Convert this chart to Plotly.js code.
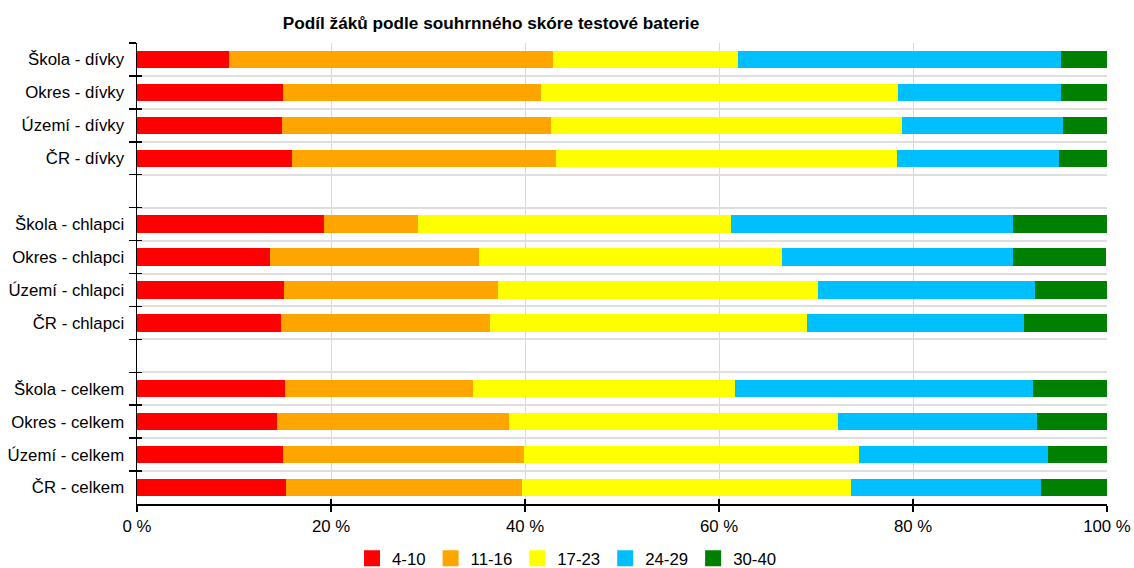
<!DOCTYPE html>
<html>
<head>
<meta charset="utf-8">
<script src="https://cdn.plot.ly/plotly-3.0.1.min.js"></script>
<style>html,body{margin:0;padding:0;background:#fff;}#chart{width:1134px;height:568px;}</style>
</head>
<body>
<div id="chart"></div>
<script>
const categories = [
  "Škola - dívky", "Okres - dívky", "Území - dívky", "ČR - dívky", " ",
  "Škola - chlapci", "Okres - chlapci", "Území - chlapci", "ČR - chlapci", "  ",
  "Škola - celkem", "Okres - celkem", "Území - celkem", "ČR - celkem"
];
const seriesNames = ["4-10", "11-16", "17-23", "24-29", "30-40"];
const s4_10  = [9.5, 15.0, 14.9, 16.0, null, 19.3, 13.7, 15.2, 14.8, null, 15.3, 14.4, 15.0, 15.4];
const s11_16 = [33.4, 26.6, 27.8, 27.2, null, 9.7, 21.6, 22.0, 21.6, null, 19.3, 23.9, 24.9, 24.3];
const s17_23 = [19.1, 36.9, 36.2, 35.1, null, 32.2, 31.2, 33.0, 32.7, null, 27.0, 34.0, 34.5, 33.9];
const s24_29 = [33.3, 16.8, 16.6, 16.7, null, 29.1, 23.8, 22.4, 22.3, null, 30.8, 20.5, 19.5, 19.6];
const s30_40 = [4.8, 4.8, 4.6, 5.0, null, 9.7, 9.6, 7.4, 8.7, null, 7.7, 7.2, 6.1, 6.8];
const xTickVals = [0, 20, 40, 60, 80, 100];
const xTickText = ["0 %", "20 %", "40 %", "60 %", "80 %", "100 %"];

const colors = ["#ff0000", "#ffa500", "#ffff00", "#00bfff", "#008000"];
const seriesData = [s4_10, s11_16, s17_23, s24_29, s30_40];

const FONT = "Liberation Sans, Arial, sans-serif";
const FS = 16.8;
const traces = [];
seriesData.forEach((vals, i) => {
  traces.push({
    type: "bar", orientation: "h", x: vals, y: categories, name: seriesNames[i],
    marker: {color: colors[i], line: {width: 0}}, showlegend: false, hoverinfo: "x+y"
  });
});
seriesData.forEach((vals, i) => {
  traces.push({
    type: "scatter", mode: "markers", x: [null], y: [null], name: seriesNames[i],
    marker: {color: colors[i], symbol: "square", size: 16}, showlegend: true
  });
});
traces.push({type: "scatter", mode: "none", x: [null], y: [null], xaxis: "x2", yaxis: "y2", showlegend: false, hoverinfo: "skip"});

const layout = {
  width: 1134, height: 568,
  margin: {l: 136.7, r: 26.7, t: 42.7, b: 63.7, autoexpand: false},
  paper_bgcolor: "#fff", plot_bgcolor: "#fff",
  barmode: "stack", bargap: 0.47,
  font: {family: FONT, size: FS, color: "#000"},
  title: {text: "Podíl žáků podle souhrnného skóre testové baterie",
          font: {family: FONT, size: 17.2, color: "#000", weight: "bold"},
          x: 0.433, xref: "container", xanchor: "center", y: 0.96, yanchor: "middle"},
  xaxis: {range: [0, 100], tickmode: "array", tickvals: xTickVals, ticktext: xTickText,
          showgrid: true, gridcolor: "#d9d9d9", gridwidth: 1,
          showline: true, linecolor: "#000", linewidth: 1.5,
          ticks: "outside", ticklen: 6, tickcolor: "#000", tickwidth: 1.5,
          zeroline: false, fixedrange: true, tickfont: {size: FS}, automargin: false},
  xaxis2: {range: [0, 100], tickmode: "array", tickvals: xTickVals, overlaying: "x", anchor: "y",
           showgrid: false, showticklabels: false, zeroline: false,
           ticks: "inside", ticklen: 5, tickcolor: "#000", tickwidth: 1.5},
  yaxis: {type: "category", categoryorder: "array", categoryarray: categories,
          range: [13.5, -0.5], tickson: "boundaries",
          showgrid: true, gridcolor: "#dedede", gridwidth: 2,
          showline: true, linecolor: "#000", linewidth: 1.5,
          ticks: "outside", ticklen: 7, tickcolor: "#000", tickwidth: 1.5,
          ticklabelstandoff: 8,
          zeroline: false, fixedrange: true, tickfont: {size: FS}, automargin: false},
  yaxis2: {range: [13.5, -0.5], overlaying: "y", anchor: "x", side: "left",
           tickmode: "array",
           tickvals: [-0.5,0.5,1.5,2.5,3.5,4.5,5.5,6.5,7.5,8.5,9.5,10.5,11.5,12.5,13.5],
           showgrid: false, showticklabels: false, zeroline: false,
           ticks: "inside", ticklen: 5, tickcolor: "#000", tickwidth: 1.5},
  legend: {orientation: "h", traceorder: "normal", x: 0.5, xref: "container", xanchor: "center",
           y: 0.017, yref: "container", yanchor: "middle",
           font: {size: FS}, bgcolor: "rgba(0,0,0,0)"},
  showlegend: true
};

Plotly.newPlot("chart", traces, layout, {displayModeBar: false, staticPlot: true});
</script>
</body>
</html>
